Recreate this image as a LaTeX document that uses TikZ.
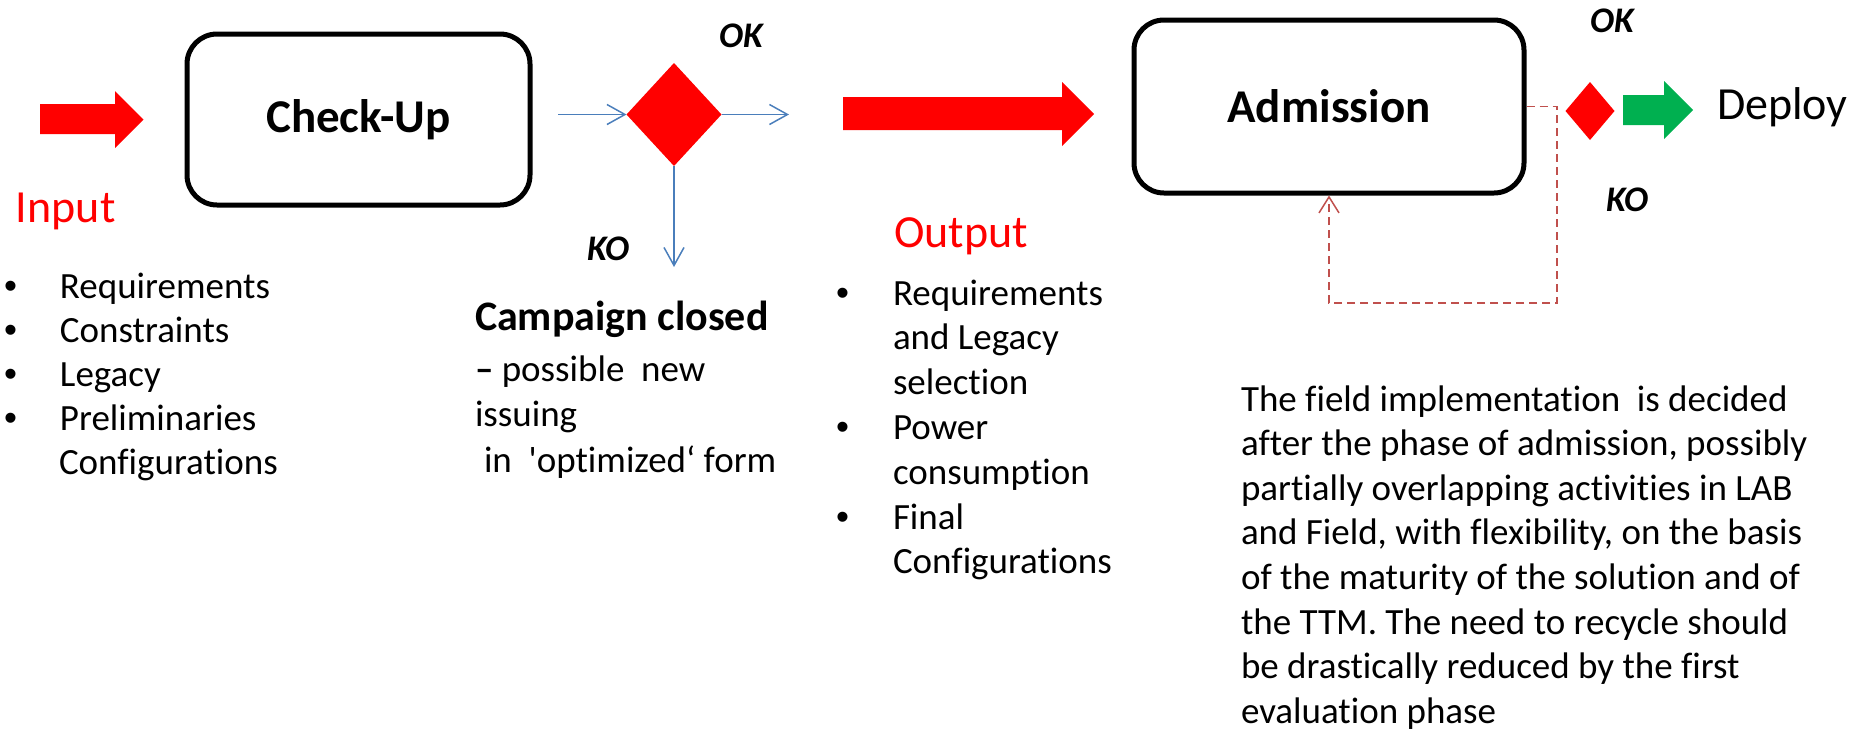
\documentclass[tikz,border=0pt]{standalone}
\usepackage{fontspec}
\setmainfont{Carlito}[Ligatures={TeX,NoCommon}]
\newfontfamily\bulletfont{Liberation Sans}
\usetikzlibrary{arrows.meta,shapes.geometric}
\definecolor{flowred}{RGB}{255,0,0}
\definecolor{flowgreen}{RGB}{0,176,80}
\definecolor{linkblue}{RGB}{74,126,187}
\definecolor{loopred}{RGB}{192,80,77}
\newcommand\listfont[1]{\fontsize{18.5}{#1}\selectfont}
\newcommand\bul{{\bulletfont •}}

\begin{document}
\begin{tikzpicture}[x=0.5pt,y=-0.5pt,
  phase/.style={draw=black,line width=2.5pt,rounded corners=15pt,fill=white,
    inner sep=0pt,font=\fontsize{23.5}{27}\selectfont\bfseries},
  gate/.style={shape=diamond,fill=flowred,draw=none,inner sep=0pt,outer sep=0pt},
  bluelink/.style={draw=linkblue,line width=0.75pt,
    -{Straight Barb[length=9pt,width=10pt,line width=0.75pt]}},
  looplink/.style={draw=loopred,line width=0.75pt,dash pattern=on 4pt off 2.5pt,
    -{Straight Barb[length=8pt,width=10pt,line width=0.75pt]}},
  txt/.style={inner sep=0pt,outer sep=0pt,anchor=base west},
  verdict/.style={txt,font=\fontsize{18}{21}\selectfont\bfseries\itshape},
  heading/.style={txt,font=\fontsize{23}{27}\selectfont},
]
\useasboundingbox (0,0) rectangle (1865,735);

% block arrows
\fill[flowred] (40,104) -- (115,104) -- (115,91) -- (143.5,119.5) -- (115,148)
  -- (115,134) -- (40,134) -- cycle;
\fill[flowred] (843,97) -- (1062,97) -- (1062,82) -- (1094,114) -- (1062,146)
  -- (1062,130) -- (843,130) -- cycle;
\fill[flowgreen] (1623,95) -- (1664,95) -- (1664,81) -- (1693,110) -- (1664,139)
  -- (1664,125) -- (1623,125) -- cycle;

% phases
\node[phase,minimum width=171.5pt,minimum height=85.5pt] (check) at (358.5,119.5) {Check-Up};
\node[phase,minimum width=195pt,minimum height=86.5pt] (adm) at (1329,106.5) {Admission};

% decisions
\node[gate,minimum width=47.5pt,minimum height=51.5pt] (d1) at (674,114.5) {};
\node[gate,minimum width=24.5pt,minimum height=29pt] (d2) at (1590,111) {};

% blue connectors around the first decision
\coordinate (inlink) at (558,114.5);
\coordinate (oklink) at (789,114.5);
\coordinate (kodown) at (674,267);
\draw[bluelink] (inlink) -- (d1.west);
\draw[bluelink] (d1.east) -- (oklink);
\draw[bluelink] (d1.south) -- (kodown);

% recycle loop back into admission
\coordinate (loopcorner) at (1557,303);
\draw[looplink] (adm.east) -| (loopcorner) -| (adm.south);

% verdict labels
\node[verdict] (ok1) at (719,47) {OK};
\node[verdict] (ko1) at (587,260) {KO};
\node[verdict] (ok2) at (1590,32) {OK};
\node[verdict] (ko2) at (1606,211) {KO};

% headings
\node[heading,text=flowred] (input) at (16,222) {Input};
\node[heading,text=flowred] (output) at (894,247) {Output};
\node[heading] (deploy) at (1717,119) {Deploy};

% input list
\node[txt,font=\listfont{22.1pt}] (inlist) at (4,298) {%
\begin{tabular}[t]{@{}p{28pt}@{}l@{}}
\bul & Requirements\\
\bul & Constraints\\
\bul & Legacy\\
\bul & Preliminaries\\
     & \hspace*{-0.5pt}Configurations
\end{tabular}};

% closed campaign
\node[txt,font=\fontsize{21}{25}\selectfont\bfseries] (closed) at (475,330) {Campaign closed};
\node[txt,font=\listfont{22.75pt}] (closednote) at (475,381) {%
\begin{tabular}[t]{@{}l@{}}
{\bfseries –} possible\ \ new\\
issuing\\
\hspace*{4.5pt}in\ \ \textquotesingle optimized‘ form
\end{tabular}};

% output list
\node[txt,font=\listfont{22.4pt}] (outlist) at (836,305) {%
\begin{tabular}[t]{@{}p{28.5pt}@{}l@{}}
\bul & Requirements\\
     & and Legacy\\
     & selection\\
\bul & Power\\
     & consumption\\
\bul & Final\\
     & Configurations
\end{tabular}};

% field implementation note
\node[txt,font=\listfont{22.3pt}] (fieldnote) at (1241,411) {%
\begin{tabular}[t]{@{}l@{}}
The field implementation\ \ is decided\\
after the phase of admission, possibly\\
partially overlapping activities in LAB\\
and Field, with flexibility, on the basis\\
of the maturity of the solution and of\\
the TTM. The need to recycle should\\
be drastically reduced by the first\\
evaluation phase
\end{tabular}};
\end{tikzpicture}
\end{document}
